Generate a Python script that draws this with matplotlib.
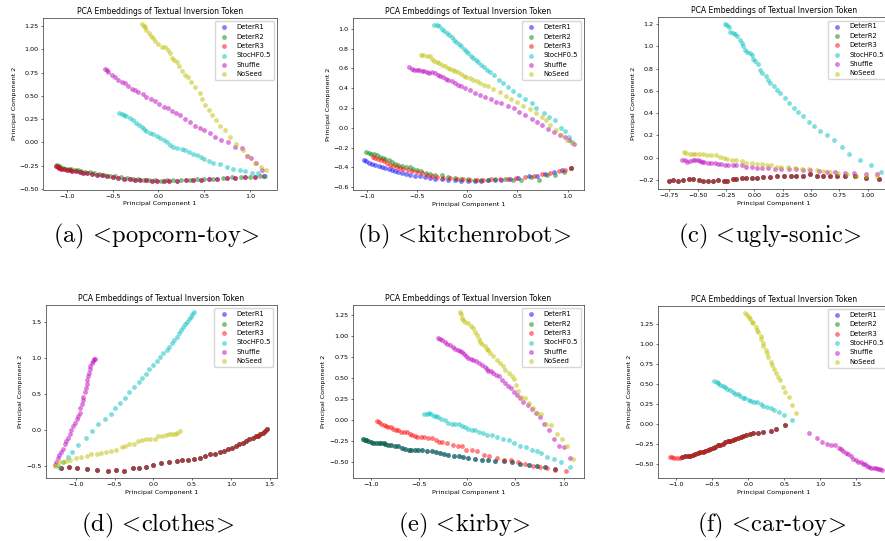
import numpy as np
import matplotlib
matplotlib.use("Agg")
import matplotlib.pyplot as plt

SERIES = ["DeterR1", "DeterR2", "DeterR3", "StocHF0.5", "Shuffle", "NoSeed"]
COLORS = ["b", "g", "r", "c", "m", "y"]
TITLE = "PCA Embeddings of Textual Inversion Token"
XLABEL = "Principal Component 1"
YLABEL = "Principal Component 2"
CAPTIONS = ["(a) <popcorn-toy>", "(b) <kitchenrobot>", "(c) <ugly-sonic>",
            "(d) <clothes>", "(e) <kirby>", "(f) <car-toy>"]

# ---------------- panel (a) ----------------
A_DETER = [(-1.12,-0.25),(-1.10,-0.26),(-1.08,-0.27),(-1.06,-0.28),(-1.03,-0.29),(-1.00,-0.30),(-0.97,-0.30),(-0.94,-0.31),(-0.90,-0.31),(-0.86,-0.32),(-0.82,-0.33),(-0.78,-0.33),(-0.73,-0.34),(-0.67,-0.35),(-0.62,-0.35),(-0.56,-0.36),(-0.50,-0.37),(-0.44,-0.38),(-0.38,-0.39),(-0.31,-0.39),(-0.26,-0.40),(-0.20,-0.40),(-0.14,-0.40),(-0.07,-0.41),(-0.01,-0.41),(0.06,-0.41),(0.12,-0.41),(0.20,-0.41),(0.30,-0.40),(0.38,-0.40),(0.46,-0.40),(0.55,-0.39),(0.64,-0.39),(0.75,-0.38),(0.84,-0.38),(0.95,-0.37),(1.06,-0.37),(1.15,-0.36)]
A_DETER2 = [(-1.11,-0.24),(-1.09,-0.25),(-1.07,-0.26),(-1.04,-0.27),(-1.01,-0.28),(-0.98,-0.29),(-0.95,-0.29),(-0.91,-0.30),(-0.88,-0.30),(-0.84,-0.31),(-0.80,-0.32),(-0.75,-0.32),(-0.70,-0.33),(-0.65,-0.34),(-0.59,-0.35),(-0.53,-0.36),(-0.47,-0.36),(-0.41,-0.37),(-0.34,-0.38),(-0.28,-0.39),(-0.22,-0.39),(-0.16,-0.40),(-0.10,-0.40),(-0.04,-0.40),(0.03,-0.41),(0.09,-0.40),(0.16,-0.40),(0.25,-0.40),(0.34,-0.40),(0.42,-0.39),(0.50,-0.39),(0.60,-0.39),(0.70,-0.38),(0.80,-0.37),(0.90,-0.37),(1.00,-0.37),(1.11,-0.36)]
A_STOCH = [(-0.43,0.32),(-0.40,0.31),(-0.38,0.30),(-0.35,0.28),(-0.31,0.26),(-0.28,0.24),(-0.24,0.21),(-0.21,0.19),(-0.18,0.17),(-0.16,0.14),(-0.13,0.12),(-0.09,0.10),(-0.06,0.09),(-0.02,0.07),(0.02,0.05),(0.06,0.03),(0.09,0.00),(0.13,-0.03),(0.16,-0.05),(0.20,-0.06),(0.26,-0.07),(0.29,-0.08),(0.33,-0.10),(0.38,-0.12),(0.42,-0.14),(0.46,-0.16),(0.50,-0.18),(0.55,-0.20),(0.60,-0.22),(0.67,-0.23),(0.75,-0.26),(0.82,-0.28),(0.89,-0.30),(0.95,-0.31),(1.02,-0.33),(1.09,-0.33),(1.16,-0.36)]
A_SHUFFLE = [(-0.58,0.79),(-0.56,0.78),(-0.55,0.76),(-0.51,0.72),(-0.47,0.70),(-0.44,0.67),(-0.40,0.65),(-0.36,0.64),(-0.33,0.61),(-0.29,0.57),(-0.26,0.56),(-0.22,0.54),(-0.17,0.52),(-0.13,0.49),(-0.08,0.47),(-0.04,0.44),(0.01,0.41),(0.06,0.38),(0.10,0.37),(0.15,0.34),(0.19,0.32),(0.24,0.30),(0.29,0.25),(0.35,0.22),(0.40,0.18),(0.45,0.15),(0.50,0.13),(0.56,0.10),(0.62,0.06),(0.68,0.03),(0.76,0.01),(0.84,-0.05),(0.91,-0.06),(0.97,-0.15),(1.01,-0.17),(1.07,-0.22),(1.13,-0.30)]
A_NOSEED = [(-0.18,1.27),(-0.16,1.25),(-0.15,1.24),(-0.13,1.21),(-0.10,1.17),(-0.08,1.14),(-0.06,1.12),(-0.04,1.09),(0.00,1.06),(0.04,1.03),(0.07,1.02),(0.10,0.99),(0.13,0.96),(0.15,0.91),(0.17,0.89),(0.20,0.86),(0.23,0.82),(0.26,0.77),(0.29,0.72),(0.32,0.70),(0.36,0.65),(0.40,0.59),(0.45,0.53),(0.48,0.47),(0.51,0.40),(0.55,0.35),(0.58,0.30),(0.63,0.24),(0.67,0.18),(0.73,0.13),(0.78,0.06),(0.85,-0.02),(0.92,-0.08),(0.98,-0.15),(1.05,-0.22),(1.12,-0.26),(1.18,-0.30)]

# ---------------- panel (b) ----------------
B_DETER1 = [(-1.03,-0.32),(-1.01,-0.33),(-0.98,-0.35),(-0.95,-0.36),(-0.92,-0.37),(-0.88,-0.38),(-0.85,-0.40),(-0.82,-0.41),(-0.78,-0.42),(-0.75,-0.43),(-0.72,-0.44),(-0.69,-0.45),(-0.65,-0.46),(-0.61,-0.47),(-0.57,-0.48),(-0.52,-0.49),(-0.47,-0.49),(-0.42,-0.50),(-0.37,-0.51),(-0.32,-0.52),(-0.25,-0.52),(-0.19,-0.53),(-0.12,-0.53),(-0.06,-0.54),(0.01,-0.54),(0.08,-0.54),(0.14,-0.54),(0.21,-0.53),(0.28,-0.53),(0.34,-0.53),(0.43,-0.52),(0.51,-0.51),(0.61,-0.49),(0.69,-0.49),(0.77,-0.47),(0.86,-0.45),(0.94,-0.43),(1.03,-0.41)]
B_DETER2 = [(-1.01,-0.24),(-0.98,-0.25),(-0.96,-0.26),(-0.93,-0.26),(-0.90,-0.27),(-0.87,-0.29),(-0.84,-0.30),(-0.82,-0.31),(-0.78,-0.32),(-0.75,-0.34),(-0.72,-0.36),(-0.69,-0.37),(-0.65,-0.38),(-0.61,-0.39),(-0.57,-0.40),(-0.54,-0.42),(-0.50,-0.43),(-0.46,-0.44),(-0.41,-0.46),(-0.37,-0.47),(-0.32,-0.48),(-0.25,-0.48),(-0.19,-0.50),(-0.12,-0.51),(-0.06,-0.52),(0.01,-0.52),(0.08,-0.53),(0.14,-0.53),(0.21,-0.53),(0.28,-0.52),(0.38,-0.52),(0.46,-0.53),(0.54,-0.53),(0.63,-0.50),(0.71,-0.53),(0.79,-0.48),(0.87,-0.48),(0.96,-0.45),(1.03,-0.41)]
B_DETER3 = [(-0.94,-0.29),(-0.92,-0.30),(-0.89,-0.31),(-0.86,-0.32),(-0.83,-0.33),(-0.80,-0.35),(-0.77,-0.37),(-0.74,-0.38),(-0.70,-0.40),(-0.67,-0.41),(-0.64,-0.42),(-0.59,-0.43),(-0.55,-0.44),(-0.50,-0.45),(-0.45,-0.46),(-0.40,-0.48),(-0.35,-0.49),(-0.30,-0.50),(-0.24,-0.51),(-0.17,-0.51),(-0.10,-0.52),(-0.04,-0.52),(0.03,-0.53),(0.10,-0.53),(0.16,-0.53),(0.24,-0.52),(0.33,-0.52),(0.41,-0.52),(0.49,-0.51),(0.58,-0.50),(0.66,-0.49),(0.74,-0.47),(0.82,-0.46),(0.91,-0.44),(0.97,-0.43),(1.03,-0.41)]
B_STOCH = [(-0.33,1.04),(-0.30,1.04),(-0.28,1.03),(-0.25,1.00),(-0.23,0.98),(-0.20,0.96),(-0.18,0.94),(-0.15,0.92),(-0.13,0.89),(-0.11,0.87),(-0.08,0.85),(-0.06,0.83),(-0.03,0.80),(-0.01,0.78),(0.01,0.75),(0.04,0.72),(0.06,0.70),(0.09,0.68),(0.11,0.66),(0.14,0.63),(0.17,0.61),(0.20,0.58),(0.23,0.56),(0.27,0.53),(0.32,0.48),(0.36,0.45),(0.41,0.41),(0.46,0.37),(0.52,0.33),(0.58,0.29),(0.64,0.25),(0.68,0.20),(0.76,0.15),(0.81,0.11),(0.87,0.08),(0.93,0.00),(0.97,-0.03),(1.01,-0.09),(1.04,-0.14)]
B_SHUFFLE = [(-0.58,0.61),(-0.55,0.59),(-0.53,0.58),(-0.50,0.58),(-0.48,0.58),(-0.45,0.57),(-0.43,0.57),(-0.40,0.56),(-0.38,0.55),(-0.35,0.56),(-0.32,0.55),(-0.29,0.53),(-0.27,0.52),(-0.24,0.51),(-0.21,0.49),(-0.19,0.48),(-0.15,0.47),(-0.12,0.45),(-0.09,0.43),(-0.06,0.42),(-0.02,0.40),(0.03,0.38),(0.08,0.35),(0.13,0.33),(0.18,0.31),(0.24,0.29),(0.29,0.26),(0.34,0.25),(0.41,0.22),(0.47,0.20),(0.52,0.16),(0.58,0.13),(0.64,0.09),(0.69,0.06),(0.74,0.03),(0.80,-0.01),(0.86,-0.04),(0.92,-0.07),(0.97,-0.09),(1.01,-0.12),(1.06,-0.16)]
B_NOSEED = [(-0.46,0.73),(-0.44,0.73),(-0.40,0.72),(-0.37,0.72),(-0.35,0.69),(-0.33,0.67),(-0.30,0.66),(-0.28,0.65),(-0.25,0.63),(-0.22,0.62),(-0.19,0.60),(-0.17,0.59),(-0.14,0.58),(-0.12,0.57),(-0.09,0.56),(-0.06,0.54),(-0.03,0.52),(-0.01,0.51),(0.03,0.50),(0.06,0.48),(0.10,0.47),(0.13,0.45),(0.17,0.43),(0.21,0.42),(0.26,0.39),(0.33,0.36),(0.39,0.32),(0.44,0.29),(0.50,0.26),(0.56,0.22),(0.62,0.19),(0.68,0.15),(0.74,0.11),(0.78,0.08),(0.82,0.03),(0.88,-0.02),(0.93,-0.07),(0.99,-0.12),(1.04,-0.15)]

# ---------------- panel (c) ----------------
C_DETER = [(-0.75,-0.21),(-0.72,-0.20),(-0.67,-0.21),(-0.63,-0.20),(-0.58,-0.19),(-0.54,-0.19),(-0.49,-0.20),(-0.45,-0.21),(-0.41,-0.21),(-0.36,-0.21),(-0.32,-0.20),(-0.27,-0.21),(-0.24,-0.21),(-0.19,-0.19),(-0.16,-0.19),(-0.11,-0.18),(-0.07,-0.18),(-0.02,-0.18),(0.02,-0.18),(0.08,-0.17),(0.14,-0.17),(0.20,-0.16),(0.26,-0.16),(0.32,-0.16),(0.37,-0.16),(0.43,-0.16),(0.49,-0.15),(0.55,-0.16),(0.61,-0.16),(0.67,-0.16),(0.73,-0.16),(0.80,-0.16),(0.89,-0.16),(0.99,-0.18),(1.10,-0.19)]
C_STOCH = [(-0.26,1.20),(-0.24,1.19),(-0.22,1.17),(-0.21,1.13),(-0.19,1.12),(-0.17,1.11),(-0.15,1.09),(-0.13,1.06),(-0.11,1.03),(-0.10,1.00),(-0.08,0.97),(-0.06,0.95),(-0.04,0.94),(-0.02,0.92),(-0.01,0.89),(0.01,0.87),(0.03,0.84),(0.05,0.79),(0.07,0.76),(0.10,0.73),(0.12,0.70),(0.14,0.67),(0.17,0.64),(0.20,0.61),(0.23,0.58),(0.27,0.54),(0.31,0.49),(0.35,0.45),(0.39,0.41),(0.43,0.37),(0.48,0.32),(0.53,0.28),(0.58,0.24),(0.64,0.20),(0.70,0.16),(0.77,0.10),(0.84,0.03),(0.93,-0.02),(1.03,-0.07),(1.12,-0.13)]
C_SHUFFLE = [(-0.64,-0.02),(-0.61,-0.02),(-0.59,-0.04),(-0.57,-0.03),(-0.54,-0.02),(-0.52,-0.02),(-0.50,-0.02),(-0.48,-0.03),(-0.46,-0.04),(-0.44,-0.04),(-0.41,-0.05),(-0.38,-0.05),(-0.35,-0.05),(-0.32,-0.06),(-0.29,-0.06),(-0.26,-0.07),(-0.23,-0.07),(-0.19,-0.07),(-0.16,-0.07),(-0.11,-0.07),(-0.07,-0.08),(-0.02,-0.08),(0.02,-0.09),(0.07,-0.09),(0.12,-0.09),(0.18,-0.10),(0.24,-0.10),(0.31,-0.10),(0.37,-0.10),(0.43,-0.11),(0.49,-0.11),(0.57,-0.12),(0.64,-0.13),(0.71,-0.13),(0.80,-0.14),(0.88,-0.14),(0.99,-0.15),(1.08,-0.15)]
C_NOSEED = [(-0.62,0.05),(-0.60,0.04),(-0.57,0.03),(-0.54,0.03),(-0.52,0.03),(-0.49,0.03),(-0.45,0.03),(-0.42,0.02),(-0.38,0.02),(-0.34,0.02),(-0.30,0.01),(-0.27,0.00),(-0.24,-0.01),(-0.20,-0.02),(-0.16,-0.02),(-0.11,-0.03),(-0.07,-0.05),(-0.02,-0.05),(0.02,-0.06),(0.07,-0.06),(0.11,-0.07),(0.15,-0.07),(0.20,-0.08),(0.24,-0.08),(0.30,-0.08),(0.36,-0.09),(0.42,-0.10),(0.48,-0.10),(0.55,-0.11),(0.61,-0.12),(0.67,-0.13),(0.74,-0.14),(0.82,-0.15),(0.90,-0.16),(0.99,-0.16),(1.08,-0.16)]

# ---------------- panel (d) ----------------
D_DETER = [(-1.19,-0.53),(-1.09,-0.52),(-0.98,-0.53),(-0.86,-0.54),(-0.73,-0.55),(-0.58,-0.57),(-0.48,-0.55),(-0.38,-0.57),(-0.26,-0.53),(-0.19,-0.53),(-0.09,-0.51),(0.00,-0.48),(0.10,-0.46),(0.20,-0.45),(0.30,-0.43),(0.37,-0.42),(0.45,-0.42),(0.52,-0.40),(0.60,-0.39),(0.66,-0.36),(0.73,-0.34),(0.79,-0.33),(0.86,-0.30),(0.91,-0.29),(0.96,-0.26),(1.01,-0.25),(1.06,-0.22),(1.10,-0.20),(1.15,-0.18),(1.19,-0.15),(1.23,-0.13),(1.28,-0.11),(1.32,-0.09),(1.35,-0.08),(1.38,-0.06),(1.41,-0.04),(1.44,-0.02),(1.46,0.01)]
D_STOCH = [(-1.21,-0.51),(-1.16,-0.45),(-1.10,-0.37),(-1.05,-0.30),(-0.97,-0.21),(-0.87,-0.11),(-0.79,-0.01),(-0.71,0.08),(-0.62,0.15),(-0.55,0.22),(-0.49,0.30),(-0.43,0.37),(-0.37,0.44),(-0.31,0.52),(-0.25,0.60),(-0.19,0.66),(-0.14,0.72),(-0.09,0.78),(-0.05,0.84),(0.00,0.90),(0.05,0.95),(0.09,1.01),(0.13,1.06),(0.17,1.11),(0.20,1.15),(0.24,1.21),(0.27,1.25),(0.30,1.29),(0.33,1.34),(0.36,1.39),(0.38,1.43),(0.41,1.46),(0.44,1.50),(0.46,1.53),(0.48,1.57),(0.50,1.60),(0.53,1.63)]
D_SHUFFLE = [(-1.27,-0.49),(-1.25,-0.44),(-1.23,-0.39),(-1.21,-0.35),(-1.19,-0.30),(-1.16,-0.26),(-1.14,-0.20),(-1.12,-0.15),(-1.10,-0.11),(-1.08,-0.06),(-1.06,0.00),(-1.04,0.05),(-1.01,0.10),(-0.99,0.15),(-0.97,0.19),(-0.95,0.24),(-0.94,0.30),(-0.92,0.36),(-0.91,0.41),(-0.90,0.46),(-0.88,0.52),(-0.87,0.58),(-0.86,0.63),(-0.85,0.69),(-0.84,0.74),(-0.83,0.79),(-0.82,0.84),(-0.81,0.89),(-0.79,0.92),(-0.78,0.96),(-0.76,0.98),(-0.75,0.98)]
D_NOSEED = [(-1.27,-0.50),(-1.24,-0.48),(-1.21,-0.45),(-1.16,-0.44),(-1.12,-0.43),(-1.08,-0.41),(-1.00,-0.39),(-0.93,-0.37),(-0.86,-0.36),(-0.80,-0.34),(-0.73,-0.33),(-0.67,-0.32),(-0.61,-0.30),(-0.54,-0.29),(-0.48,-0.28),(-0.41,-0.23),(-0.36,-0.22),(-0.31,-0.20),(-0.25,-0.19),(-0.20,-0.16),(-0.14,-0.14),(-0.09,-0.13),(-0.04,-0.13),(0.02,-0.12),(0.06,-0.09),(0.11,-0.08),(0.16,-0.07),(0.20,-0.06),(0.24,-0.05),(0.28,-0.05),(0.31,-0.04),(0.34,-0.02)]

# ---------------- panel (e) ----------------
E_DETER12 = [(-1.08,-0.22),(-1.06,-0.23),(-1.05,-0.24),(-1.03,-0.25),(-1.00,-0.26),(-0.98,-0.27),(-0.95,-0.27),(-0.92,-0.27),(-0.90,-0.27),(-0.87,-0.27),(-0.85,-0.28),(-0.82,-0.29),(-0.79,-0.29),(-0.75,-0.30),(-0.72,-0.31),(-0.68,-0.33),(-0.65,-0.34),(-0.61,-0.35),(-0.58,-0.35),(-0.54,-0.35),(-0.51,-0.35),(-0.47,-0.35),(-0.42,-0.36),(-0.37,-0.37),(-0.33,-0.38),(-0.28,-0.39),(-0.24,-0.40),(-0.20,-0.41),(-0.14,-0.43),(-0.09,-0.43),(-0.04,-0.44),(0.01,-0.45),(0.08,-0.46),(0.15,-0.47),(0.22,-0.47),(0.29,-0.48),(0.38,-0.49),(0.46,-0.50),(0.55,-0.52),(0.64,-0.53),(0.72,-0.54),(0.81,-0.56),(0.91,-0.58)]
E_DETER3 = [(-0.94,-0.01),(-0.92,-0.02),(-0.90,-0.04),(-0.87,-0.06),(-0.84,-0.07),(-0.82,-0.08),(-0.79,-0.08),(-0.77,-0.10),(-0.74,-0.11),(-0.72,-0.11),(-0.69,-0.14),(-0.66,-0.14),(-0.63,-0.14),(-0.60,-0.16),(-0.57,-0.18),(-0.54,-0.19),(-0.52,-0.20),(-0.48,-0.20),(-0.45,-0.20),(-0.41,-0.21),(-0.37,-0.21),(-0.33,-0.23),(-0.29,-0.26),(-0.26,-0.26),(-0.21,-0.27),(-0.15,-0.29),(-0.10,-0.30),(-0.06,-0.31),(-0.01,-0.35),(0.05,-0.35),(0.10,-0.37),(0.17,-0.41),(0.23,-0.43),(0.31,-0.45),(0.38,-0.47),(0.45,-0.47),(0.53,-0.50),(0.60,-0.52),(0.68,-0.54),(0.76,-0.56),(0.83,-0.57),(0.91,-0.59),(1.02,-0.60)]
E_STOCH = [(-0.45,0.07),(-0.42,0.08),(-0.40,0.09),(-0.38,0.07),(-0.35,0.05),(-0.33,0.05),(-0.30,0.04),(-0.27,0.01),(-0.23,0.00),(-0.20,-0.03),(-0.16,-0.04),(-0.13,-0.04),(-0.09,-0.05),(-0.06,-0.07),(-0.02,-0.08),(0.01,-0.10),(0.05,-0.12),(0.08,-0.12),(0.12,-0.14),(0.16,-0.15),(0.20,-0.17),(0.26,-0.18),(0.31,-0.20),(0.37,-0.22),(0.43,-0.23),(0.49,-0.27),(0.55,-0.30),(0.61,-0.32),(0.67,-0.35),(0.72,-0.37),(0.77,-0.39),(0.83,-0.44),(0.90,-0.46),(0.97,-0.50),(1.07,-0.56)]
E_SHUFFLE = [(-0.30,0.98),(-0.28,0.97),(-0.26,0.95),(-0.23,0.93),(-0.21,0.91),(-0.18,0.89),(-0.15,0.87),(-0.13,0.85),(-0.10,0.83),(-0.08,0.82),(-0.05,0.81),(-0.03,0.79),(-0.01,0.76),(0.01,0.74),(0.04,0.73),(0.06,0.72),(0.09,0.70),(0.12,0.68),(0.15,0.66),(0.18,0.63),(0.20,0.61),(0.22,0.59),(0.25,0.59),(0.27,0.56),(0.30,0.54),(0.33,0.52),(0.36,0.48),(0.39,0.44),(0.42,0.41),(0.45,0.38),(0.48,0.34),(0.52,0.30),(0.55,0.26),(0.58,0.22),(0.63,0.18),(0.67,0.13),(0.71,0.09),(0.76,0.04),(0.80,-0.04),(0.85,-0.12),(0.90,-0.22),(0.95,-0.31),(1.00,-0.32),(1.07,-0.45)]
E_NOSEED = [(-0.08,1.28),(-0.07,1.26),(-0.06,1.21),(-0.04,1.19),(-0.02,1.17),(0.01,1.15),(0.04,1.12),(0.06,1.09),(0.08,1.05),(0.10,1.01),(0.12,0.97),(0.13,0.93),(0.15,0.91),(0.18,0.88),(0.20,0.85),(0.22,0.83),(0.24,0.80),(0.27,0.76),(0.31,0.72),(0.34,0.68),(0.37,0.64),(0.39,0.60),(0.43,0.56),(0.46,0.53),(0.48,0.49),(0.51,0.42),(0.53,0.35),(0.56,0.28),(0.60,0.27),(0.64,0.21),(0.68,0.15),(0.72,0.09),(0.77,0.07),(0.82,-0.05),(0.87,-0.06),(0.93,-0.16),(0.98,-0.22),(1.04,-0.30),(1.10,-0.46)]

# ---------------- panel (f) ----------------
F_DETER = [(-1.09,-0.42),(-1.06,-0.42),(-1.03,-0.43),(-0.99,-0.43),(-0.95,-0.43),(-0.92,-0.42),(-0.88,-0.41),(-0.84,-0.40),(-0.81,-0.40),(-0.77,-0.39),(-0.74,-0.38),(-0.70,-0.37),(-0.67,-0.35),(-0.63,-0.35),(-0.60,-0.34),(-0.56,-0.33),(-0.53,-0.32),(-0.49,-0.30),(-0.46,-0.29),(-0.42,-0.27),(-0.39,-0.26),(-0.35,-0.25),(-0.32,-0.23),(-0.28,-0.22),(-0.25,-0.22),(-0.21,-0.20),(-0.18,-0.19),(-0.14,-0.18),(-0.10,-0.17),(-0.07,-0.15),(-0.03,-0.14),(0.02,-0.13),(0.07,-0.12),(0.14,-0.11),(0.21,-0.10),(0.31,-0.09),(0.39,-0.06),(0.51,-0.02)]
F_DETER12 = [(-0.92,-0.42),(-0.88,-0.41),(-0.84,-0.40),(-0.81,-0.40),(-0.77,-0.39),(-0.74,-0.38),(-0.70,-0.37),(-0.67,-0.35),(-0.63,-0.35),(-0.60,-0.34),(-0.56,-0.33),(-0.53,-0.32),(-0.49,-0.30),(-0.46,-0.29),(-0.42,-0.27),(-0.39,-0.26),(-0.35,-0.25),(-0.32,-0.23),(-0.28,-0.22),(-0.25,-0.22),(-0.21,-0.20),(-0.18,-0.19),(-0.14,-0.18),(-0.10,-0.17),(-0.07,-0.15),(-0.03,-0.14),(0.02,-0.13),(0.07,-0.12),(0.14,-0.11),(0.21,-0.10),(0.31,-0.09),(0.39,-0.06),(0.51,-0.02)]
F_STOCH = [(-0.47,0.54),(-0.44,0.53),(-0.42,0.51),(-0.39,0.49),(-0.35,0.47),(-0.32,0.46),(-0.29,0.44),(-0.25,0.43),(-0.21,0.40),(-0.18,0.38),(-0.14,0.38),(-0.11,0.35),(-0.07,0.33),(-0.04,0.32),(0.01,0.30),(0.04,0.29),(0.08,0.28),(0.12,0.27),(0.17,0.25),(0.21,0.22),(0.26,0.21),(0.31,0.20),(0.36,0.17),(0.42,0.15),(0.50,0.11),(0.60,0.05)]
F_SHUFFLE = [(0.84,-0.11),(0.95,-0.18),(1.03,-0.23),(1.09,-0.25),(1.15,-0.27),(1.21,-0.27),(1.26,-0.30),(1.29,-0.32),(1.32,-0.34),(1.36,-0.36),(1.39,-0.38),(1.43,-0.40),(1.46,-0.44),(1.50,-0.45),(1.52,-0.48),(1.56,-0.48),(1.59,-0.50),(1.62,-0.51),(1.65,-0.53),(1.68,-0.54),(1.71,-0.55),(1.74,-0.55),(1.77,-0.56),(1.80,-0.57),(1.83,-0.57),(1.86,-0.58)]
F_NOSEED = [(-0.04,1.39),(-0.02,1.37),(0.01,1.34),(0.03,1.31),(0.05,1.28),(0.07,1.26),(0.10,1.22),(0.12,1.18),(0.14,1.15),(0.17,1.10),(0.18,1.06),(0.20,1.02),(0.21,0.98),(0.24,0.93),(0.26,0.89),(0.28,0.84),(0.31,0.78),(0.33,0.74),(0.35,0.69),(0.38,0.64),(0.41,0.59),(0.44,0.55),(0.48,0.46),(0.51,0.40),(0.56,0.34),(0.61,0.24),(0.66,0.14)]

PANELS = [
    [A_DETER, A_DETER2, A_DETER, A_STOCH, A_SHUFFLE, A_NOSEED],
    [B_DETER1, B_DETER2, B_DETER3, B_STOCH, B_SHUFFLE, B_NOSEED],
    [C_DETER, C_DETER, C_DETER, C_STOCH, C_SHUFFLE, C_NOSEED],
    [D_DETER, D_DETER, D_DETER, D_STOCH, D_SHUFFLE, D_NOSEED],
    [E_DETER12, E_DETER12, E_DETER3, E_STOCH, E_SHUFFLE, E_NOSEED],
    [F_DETER12, F_DETER12, F_DETER, F_STOCH, F_SHUFFLE, F_NOSEED],
]

# layout (figure fractions) and axis ranges
W, H = 885.0, 541.0
BOXES = [(43, 18, 277, 189.5), (353, 18, 584, 190), (658.3, 17.3, 890, 189),
         (45.7, 305, 276.7, 478), (352.7, 305, 584.3, 478), (658.3, 305.7, 890, 478)]
XLIMS = [(-1.26, 1.295), (-1.136, 1.162), (-0.847, 1.198),
         (-1.387, 1.59), (-1.19, 1.215), (-1.25, 1.968)]
YLIMS = [(-0.505, 1.336), (-0.627, 1.108), (-0.281, 1.26),
         (-0.666, 1.73), (-0.686, 1.369), (-0.68, 1.483)]
CAP_POS = [(156.5, 236.5), (464, 236.5), (770, 236.5),
           (157.5, 525.5), (464, 525.5), (771, 525.5)]

plt.rcParams["mathtext.fontset"] = "cm"
plt.rcParams["axes.unicode_minus"] = True


def caption_text(s):
    # relation symbols get automatic spacing in mathtext; cancel most of it
    s = s.replace(" ", r"$\ $")
    s = s.replace("<", r"$\!<\!$").replace(">", r"$\!>\!$")
    return s


fig = plt.figure(figsize=(W / 100, H / 100), dpi=100)
FS = 4.6
for i, series in enumerate(PANELS):
    l, t, r, b = BOXES[i]
    ax = fig.add_axes([l / W, 1 - b / H, (r - l) / W, (b - t) / H])
    for name, col, pts in zip(SERIES, COLORS, series):
        arr = np.array(pts)
        ax.scatter(arr[:, 0], arr[:, 1], s=12, c=col, alpha=0.5,
                   linewidths=0, label=name)
    ax.set_xlim(*XLIMS[i])
    ax.set_ylim(*YLIMS[i])
    ax.set_title(TITLE, fontsize=5.5, pad=3.0)
    ax.set_xlabel(XLABEL, fontsize=FS, labelpad=1.8)
    ax.set_ylabel(YLABEL, fontsize=FS, labelpad=1.8)
    ax.tick_params(labelsize=FS, length=1.6, width=0.4, pad=1.6)
    for sp in ax.spines.values():
        sp.set_linewidth(0.5)
        sp.set_color("#333333")
    ax.legend(loc="upper right", fontsize=4.9, scatterpoints=1)

    cx, cy = CAP_POS[i]
    fig.text(cx / W, 1 - cy / H, caption_text(CAPTIONS[i]), family="cmr10",
             fontsize=17.6, ha="center", va="center")

fig.savefig("out.png", dpi=100)
